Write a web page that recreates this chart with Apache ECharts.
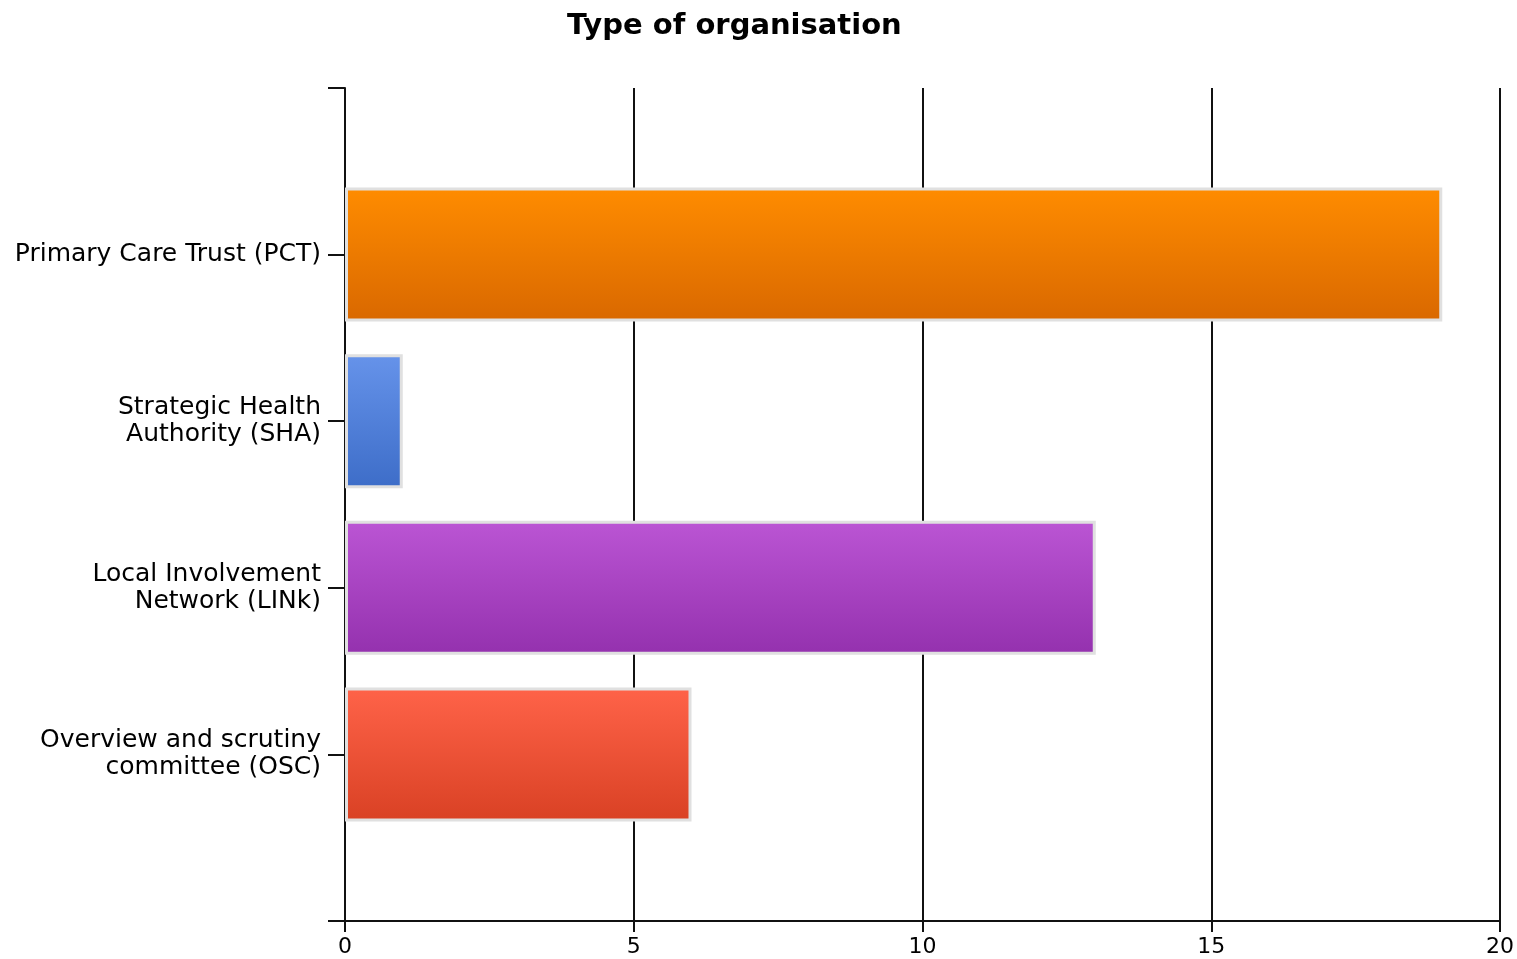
<!DOCTYPE html>
<html>
<head>
<meta charset="utf-8">
<script src="https://cdn.jsdelivr.net/npm/echarts@6/dist/echarts.min.js"></script>
<style>html,body{margin:0;padding:0;background:#fff}#c{width:1517px;height:959px}</style>
</head>
<body>
<div id="c"></div>
<script>
const title = 'Type of organisation';
const categories = ['Primary Care Trust (PCT)', 'Strategic Health\nAuthority (SHA)', 'Local Involvement\nNetwork (LINk)', 'Overview and scrutiny\ncommittee (OSC)'];
const values = [19, 1, 13, 6];
const topColors = ['#ff8c00', '#6693ea', '#bb55d4', '#ff6349'];
const bottomColors = ['#d96800', '#3d6dc8', '#9431ae', '#d94124'];
const xTicks = [0, 5, 10, 15, 20];

const axisCats = [''].concat(categories, ['']);
const seriesData = [null].concat(values.map((v, i) => ({
  value: v,
  itemStyle: {
    color: new echarts.graphic.LinearGradient(0, 0, 0, 1, [
      {offset: 0, color: topColors[i]},
      {offset: 1, color: bottomColors[i]}
    ])
  }
})), [null]);

const font = '"DejaVu Sans", Verdana, sans-serif';
const chart = echarts.init(document.getElementById('c'));
chart.setOption({
  animation: false,
  title: {
    text: title,
    left: 562, top: 7,
    textStyle: {fontFamily: font, fontWeight: 'bold', fontSize: 29, color: '#000'}
  },
  grid: {left: 345, right: 17, top: 88, bottom: 38, containLabel: false},
  xAxis: {
    type: 'value', min: xTicks[0], max: xTicks[xTicks.length - 1], interval: 5,
    axisLine: {show: true, lineStyle: {color: '#111', width: 2}},
    axisTick: {show: true, length: 11, lineStyle: {color: '#111', width: 2}},
    axisLabel: {color: '#000', fontFamily: font, fontSize: 22, margin: 15},
    splitLine: {show: true, lineStyle: {color: '#111', width: 2}}
  },
  yAxis: {
    type: 'category', inverse: true, boundaryGap: false,
    data: axisCats,
    axisLine: {show: true, onZero: false, lineStyle: {color: '#111', width: 2}},
    axisTick: {show: true, length: 17, alignWithLabel: true, interval: 0, lineStyle: {color: '#111', width: 2}},
    axisLabel: {color: '#000', fontFamily: font, fontSize: 25, margin: 24, lineHeight: 27, interval: 0},
    splitLine: {show: false}
  },
  series: [{
    type: 'bar',
    data: seriesData,
    barWidth: 134,
    itemStyle: {borderColor: '#e0e0e0', borderWidth: 3}
  }]
});
</script>
</body>
</html>
